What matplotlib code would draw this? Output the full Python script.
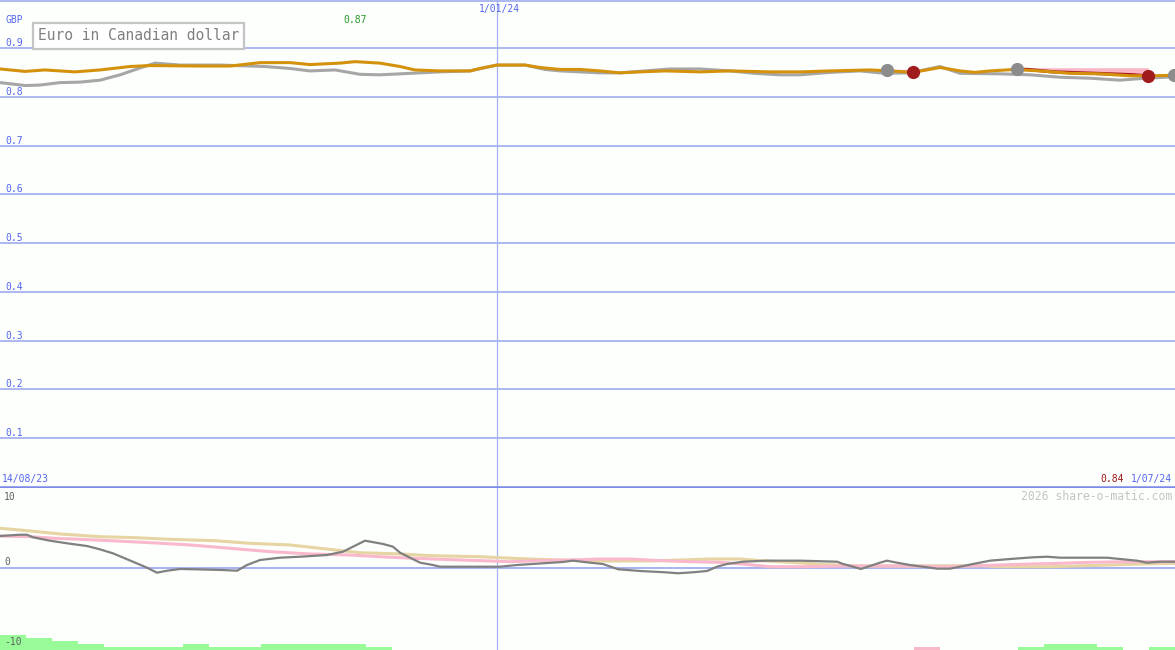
import numpy as np
import matplotlib
matplotlib.use("Agg")
import matplotlib.pyplot as plt

# ---------------- data (x in weeks since 14/08/23) ----------------
price_wk = [0, 0.96, 1.72, 2.87, 3.83, 4.98, 5.74, 7.66, 8.81, 9.96, 11.11, 11.87, 13.02, 13.60,
            14.55, 15.32, 15.89, 16.85, 18.00, 18.38, 19.03, 20.11, 20.68, 21.45, 22.21, 22.98,
            23.74, 24.51, 25.47, 26.81, 27.96, 29.49, 30.64, 31.79, 33.32, 34.09, 34.97, 36.00,
            36.77, 37.34, 37.92, 38.87, 39.83, 40.98, 42.13, 43.28, 44.04, 45.00]
price = [0.857, 0.852, 0.855, 0.851, 0.855, 0.862, 0.864, 0.863, 0.863, 0.870, 0.870, 0.866,
         0.869, 0.872, 0.869, 0.862, 0.855, 0.853, 0.853, 0.858, 0.865, 0.865, 0.860, 0.856,
         0.856, 0.853, 0.849, 0.851, 0.853, 0.851, 0.853, 0.851, 0.851, 0.853, 0.855, 0.853,
         0.850, 0.860, 0.853, 0.850, 0.853, 0.856, 0.853, 0.848, 0.847, 0.843, 0.843, 0.844]

avg_wk = [0, 0.96, 1.53, 2.30, 3.06, 3.83, 4.60, 5.36, 5.94, 6.89, 8.43, 10.15, 11.11, 11.87,
          12.83, 13.79, 14.55, 15.32, 16.09, 16.85, 18.00, 19.03, 20.11, 20.87, 21.45, 22.98,
          23.74, 24.70, 25.66, 26.81, 27.96, 28.91, 29.87, 30.64, 31.79, 32.94, 33.89, 34.85,
          36.00, 36.77, 38.30, 39.45, 40.60, 41.75, 42.89, 43.85, 45.00]
avg = [0.829, 0.823, 0.824, 0.829, 0.830, 0.834, 0.845, 0.859, 0.869, 0.865, 0.865, 0.862,
       0.858, 0.853, 0.855, 0.846, 0.845, 0.847, 0.849, 0.851, 0.853, 0.865, 0.865, 0.856,
       0.853, 0.849, 0.849, 0.853, 0.857, 0.857, 0.853, 0.848, 0.845, 0.845, 0.850, 0.853,
       0.848, 0.849, 0.862, 0.848, 0.847, 0.845, 0.840, 0.838, 0.834, 0.838, 0.841]

trade_wk = [38.95, 39.33, 40.33, 41.36, 42.40, 43.39, 43.97]
trade = [0.856, 0.856, 0.851, 0.849, 0.847, 0.845, 0.8425]
trade_top = 0.8596
trade1_wk = [33.97, 34.97]
trade1 = [0.853, 0.851]
trade1_top = 0.8563

sell_wk = [33.97, 38.95, 44.95]
sell_val = [0.854, 0.856, 0.845]
buy_wk = [34.97, 43.97]
buy_val = [0.851, 0.8425]

tan_wk = [0, 1.15, 2.30, 3.83, 5.17, 6.51, 8.23, 9.57, 11.11, 12.26, 13.79, 15.32, 16.47, 18.38,
          19.34, 20.30, 21.45, 22.98, 24.89, 26.04, 27.19, 28.34, 29.11, 30.26, 31.40, 32.94,
          34.47, 36.38, 37.53, 38.30, 40.21, 42.13, 43.66, 45.00]
tan = [6.00, 5.59, 5.13, 4.72, 4.57, 4.32, 4.11, 3.71, 3.46, 2.95, 2.28, 2.09, 1.83, 1.67, 1.48,
       1.32, 1.17, 1.02, 1.02, 1.17, 1.32, 1.32, 1.07, 0.82, 0.52, 0.26, 0.26, 0.30, 0.30, 0.15,
       0.15, 0.36, 0.56, 0.67]

pink_wk = [0, 1.15, 2.11, 3.06, 4.21, 5.74, 7.28, 8.81, 10.34, 11.87, 13.40, 14.55, 15.32, 16.85,
           18.38, 19.53, 20.68, 21.83, 22.98, 24.13, 25.28, 26.43, 27.57, 28.53, 29.49, 30.64,
           32.55, 34.47, 36.38, 38.30, 39.45, 40.60, 41.75, 43.28, 45.00]
pink = [4.82, 4.72, 4.47, 4.32, 4.11, 3.81, 3.46, 2.95, 2.44, 2.09, 1.93, 1.67, 1.52, 1.28, 1.07,
        0.91, 1.07, 1.17, 1.32, 1.32, 1.07, 0.91, 0.82, 0.52, 0.15, 0.15, 0.26, 0.26, 0.15, 0.41,
        0.56, 0.67, 0.82, 0.91, 0.91]

osc_wk = [0, 0.77, 1.03, 1.26, 1.91, 2.57, 3.33, 3.83, 4.33, 5.09, 5.63, 6.01, 6.40, 6.89, 7.54,
          8.50, 9.08, 9.46, 9.96, 10.72, 11.49, 12.52, 13.14, 13.98, 14.67, 15.05, 15.32, 16.09,
          16.58, 16.85, 19.15, 19.80, 20.80, 21.56, 21.94, 22.48, 23.09, 23.67, 24.51, 25.47,
          25.97, 26.54, 27.08, 27.46, 27.84, 28.46, 29.37, 30.64, 32.06, 32.29, 32.67, 32.97,
          33.32, 33.70, 33.97, 34.35, 34.85, 35.35, 35.89, 36.38, 36.77, 37.26, 37.92, 38.68,
          39.56, 40.10, 40.60, 42.40, 42.89, 43.54, 43.93, 44.43, 45.00]
osc = [4.82, 5.02, 5.02, 4.63, 4.11, 3.71, 3.30, 2.79, 2.18, 0.91, 0.0, -0.76, -0.46, -0.20,
       -0.25, -0.35, -0.46, 0.41, 1.17, 1.52, 1.67, 1.93, 2.44, 4.11, 3.61, 3.20, 2.28, 0.76,
       0.41, 0.15, 0.15, 0.41, 0.67, 0.87, 1.07, 0.82, 0.56, -0.24, -0.50, -0.70, -0.85, -0.70,
       -0.50, 0.15, 0.56, 0.91, 1.07, 1.07, 0.91, 0.56, 0.15, -0.20, 0.26, 0.76, 1.07, 0.76,
       0.41, 0.15, -0.15, -0.15, 0.15, 0.56, 1.07, 1.32, 1.58, 1.67, 1.52, 1.52, 1.32, 1.07,
       0.76, 0.91, 0.91]

green_bars = [5, 4, 3, 2, 1, 1, 1, 2, 1, 1, 2, 2, 2, 2, 1] + [0] * 24 + [1, 2, 2, 1, 0, 1]
pink_bars = [0] * 35 + [1] + [0] * 9

gridlevels = [0.1, 0.2, 0.3, 0.4, 0.5, 0.6, 0.7, 0.8, 0.9]
osc_labels = [10, 0, -10]
jan_wk = 19.03
title = "Euro in Canadian dollar"
currency = "GBP"
start_label, mid_label, end_label = "14/08/23", "1/01/24", "1/07/24"
watermark = "2026 share-o-matic.com"

# ---------------- style ----------------
BG = "#fdfffd"
GRID = "#a6b2f0"
SEP = "#7b89e8"
BLUE_TXT = "#5566ee"
MONO = "DejaVu Sans Mono"

W, H = 1175, 650
fig = plt.figure(figsize=(W / 100, H / 100), dpi=100, facecolor=BG)
ax = fig.add_axes([0, 162 / H, 1, 488 / H])
axb = fig.add_axes([0, 0, 1, 162 / H])
axbar = fig.add_axes([0, 0, 1, 162 / H], zorder=-1)
for a in (ax, axb, axbar):
    a.set_axis_off()
    a.set_xlim(0, 45)

ax.set_ylim(-0.00256, 0.99846)
axb.set_ylim(-12.53, 12.13)
axbar.set_ylim(0, 54)

# grid
for v in gridlevels:
    ax.axhline(v, color=GRID, lw=1.3, zorder=1)
    ax.annotate(f"{v:.1f}", xy=(0, v), xycoords=("axes fraction", "data"),
                xytext=(5, 2), textcoords="offset pixels", va="baseline", ha="left",
                fontsize=7, color=BLUE_TXT, family=MONO)
ax.axhline(0.9974, color=GRID, lw=1.3, zorder=1)
ax.axhline(0, color=SEP, lw=1.8, zorder=5)
ax.axvline(jan_wk, color=GRID, lw=0.9, zorder=1)
axb.axvline(jan_wk, color=GRID, lw=0.9, zorder=1)

# top panel series
ax.fill_between(trade_wk, trade, trade_top, color="#f9b6c6", lw=0, zorder=2)
ax.fill_between(trade1_wk, trade1, trade1_top, color="#f9b6c6", lw=0, zorder=2)
ax.plot(avg_wk, avg, color="#a6a6a6", lw=2.2, zorder=3)
ax.plot(trade_wk, trade, color="#a81c1c", lw=2.4, zorder=3)
ax.plot(price_wk, price, color="#d4920c", lw=2.2, zorder=4)
ax.plot(sell_wk, sell_val, "o", ms=8.5, color="#8c8c8c", zorder=6)
ax.plot(buy_wk, buy_val, "o", ms=8.5, color="#a01c1c", zorder=6)

# max label and last value
imax = int(np.argmax(price))
ax.annotate(f"{price[imax]:.2f}", xy=(price_wk[imax], 1 - 20 / H),
            xycoords=("data", "figure fraction"), ha="center", va="center",
            fontsize=7, color="#2a9a2a", family=MONO)
fig.text(1124 / W, 1 - 479 / H, f"{price[-1]:.2f}", ha="right", va="center",
         fontsize=7, color="#a01818", family=MONO)

# bottom panel
axb.axhline(0, color=GRID, lw=1.4, zorder=1)
axb.plot(tan_wk, tan, color="#e6d4a2", lw=2.2, zorder=2)
axb.plot(pink_wk, pink, color="#f9b8cc", lw=2.2, zorder=3)
axb.plot(osc_wk, osc, color="#808080", lw=1.6, zorder=4)
offs = {10: 2, 0: 3, -10: -12}
for v in osc_labels:
    axb.annotate(f"{v}", xy=(0, v), xycoords=("axes fraction", "data"),
                 xytext=(4, offs[v]), textcoords="offset pixels", va="baseline",
                 ha="left", fontsize=7, color="#606060", family=MONO)

wk = np.arange(len(green_bars))
axbar.bar(wk, green_bars, width=1.0, align="edge", color="#98fb98", lw=0)
axbar.bar(wk, pink_bars, width=1.0, align="edge", color="#f8b8c8", lw=0)

# texts
fig.text(5 / W, 1 - 20 / H, currency, ha="left", va="center", fontsize=7,
         color=BLUE_TXT, family=MONO)
fig.text(38 / W, 1 - 36 / H, title, ha="left", va="center", fontsize=10.5,
         color="#808080", family=MONO,
         bbox=dict(boxstyle="square,pad=0.35", fc="#ffffff", ec="#c4c4c4", lw=1.6))
ax.annotate(mid_label, xy=(jan_wk, 1 - 9 / H), xycoords=("data", "figure fraction"),
            xytext=(3, 0), textcoords="offset pixels", ha="center", va="center",
            fontsize=7, color=BLUE_TXT, family=MONO)
fig.text(2 / W, 1 - 479 / H, start_label, ha="left", va="center", fontsize=7,
         color=BLUE_TXT, family=MONO)
fig.text(1172 / W, 1 - 479 / H, end_label, ha="right", va="center", fontsize=7,
         color=BLUE_TXT, family=MONO)
fig.text(1172 / W, 1 - 496 / H, watermark, ha="right", va="center", fontsize=8.3,
         color="#c4c4c4", family=MONO)

fig.savefig("out.png", dpi=100, facecolor=BG)
